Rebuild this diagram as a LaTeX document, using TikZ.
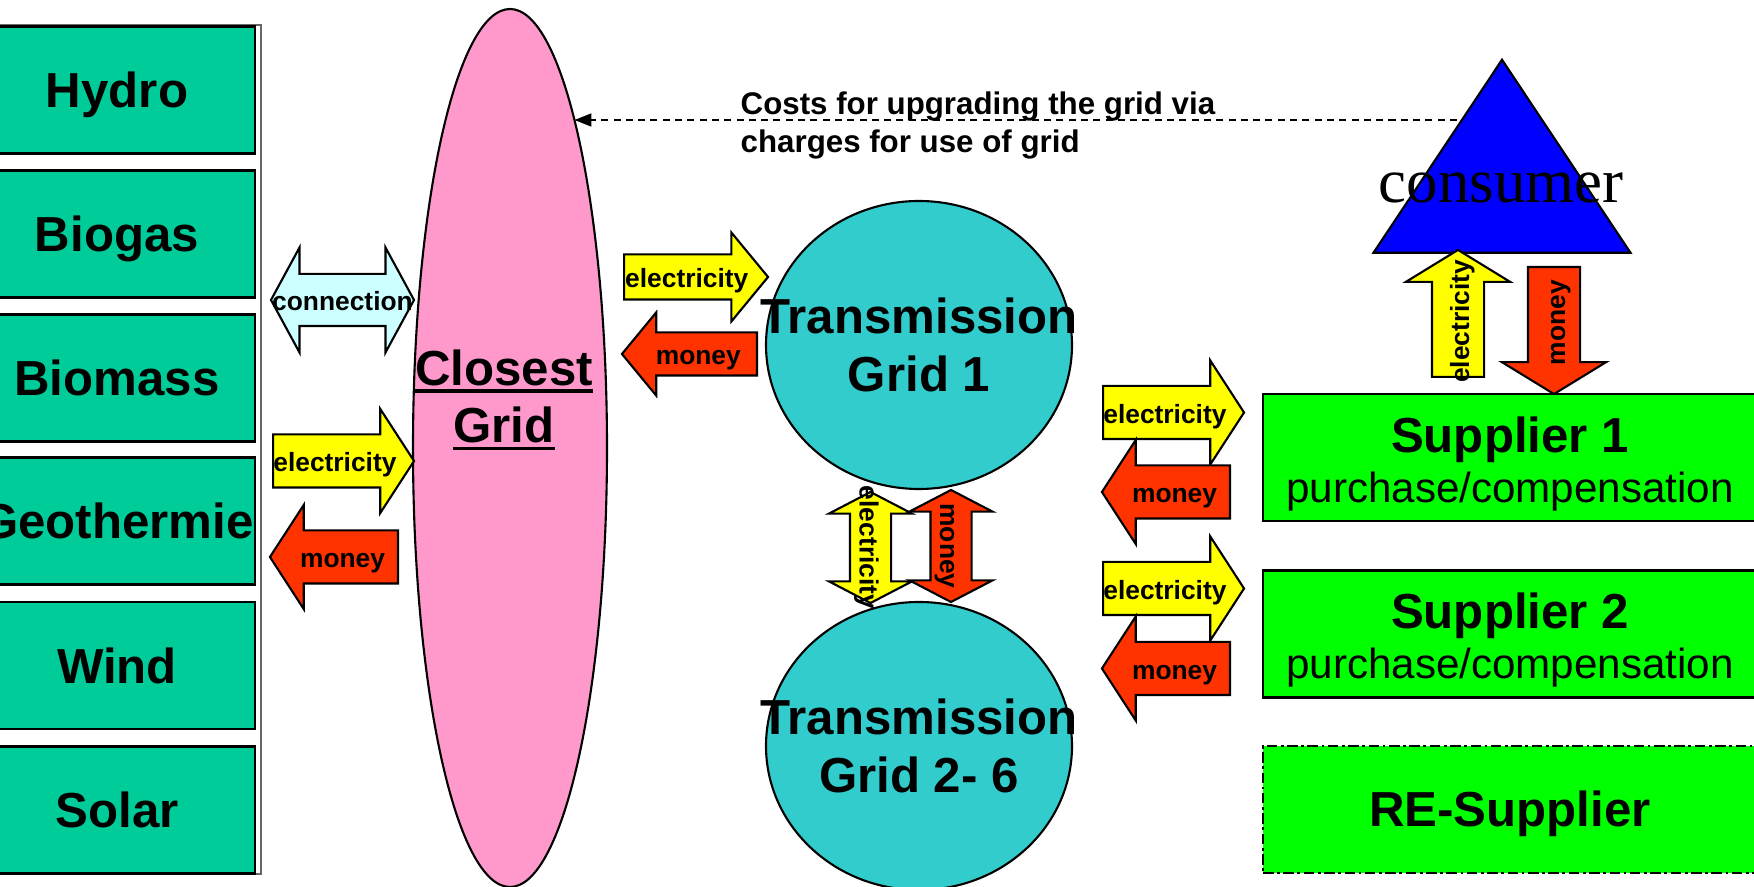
\documentclass[tikz,border=0pt]{standalone}
\usepackage{fontspec}
\setmainfont{Liberation Sans}
\newfontfamily\timesfont{Liberation Serif}
\usetikzlibrary{shapes.geometric,shapes.arrows,arrows.meta}

\definecolor{srcgreen}{RGB}{0,204,153}
\definecolor{gridpink}{RGB}{255,153,204}
\definecolor{gridteal}{RGB}{51,204,204}
\definecolor{supgreen}{RGB}{0,255,0}
\definecolor{elecyellow}{RGB}{255,255,0}
\definecolor{payred}{RGB}{255,51,0}
\definecolor{linkcyan}{RGB}{204,255,255}
\definecolor{userblue}{RGB}{0,0,255}

\newcommand{\gridul}[1]{\leavevmode\vtop{\hbox{#1}\kern1pt\hrule height 1.1pt}}

\tikzset{
  srcbox/.style={rectangle, draw, line width=0.6pt, fill=srcgreen, minimum width=2.76cm, minimum height=1.27cm, text height=0.355cm, text depth=0cm, font=\fontsize{14}{16}\selectfont\bfseries},
  supbox/.style={rectangle, draw, line width=0.6pt, fill=supgreen, minimum width=4.94cm, minimum height=1.27cm},
  suptext/.style={font=\fontsize{12}{14.2}\selectfont, align=center, inner sep=0pt},
  tgrid/.style={ellipse, draw, line width=0.6pt, fill=gridteal, minimum width=3.06cm, minimum height=2.88cm, inner sep=0pt},
  bigtext/.style={font=\fontsize{14}{16.3}\selectfont\bfseries, align=center, inner sep=0pt},
  flow/.style={draw, line width=0.6pt, inner xsep=0pt, text height=0.26cm, text depth=0.04cm, font=\fontsize{7.5}{9}\selectfont\bfseries},
  elec/.style={flow, single arrow, fill=elecyellow},
  pay/.style={flow, single arrow, fill=payred, shape border rotate=180},
  wide/.style={inner ysep=0.105cm, single arrow head extend=0.255cm, single arrow tip angle=114},
  costline/.style={dash pattern=on 2pt off 1.5pt, line width=0.5pt, -{Triangle[length=0.17cm,width=0.13cm]}}
}

\begin{document}
\begin{tikzpicture}
\useasboundingbox (0,0) rectangle (17.54,-8.87);

% energy sources
\draw[line width=0.5pt, black!60] (-0.30,-0.25) rectangle (2.61,-8.74);
\node[srcbox] (hydro) at (1.17,-0.90) {Hydro};
\node[srcbox] (biogas) at (1.17,-2.34) {Biogas};
\node[srcbox] (biomass) at (1.17,-3.78) {Biomass};
\node[srcbox] (geo) at (1.17,-5.21) {\makebox[0pt]{Geothermie}};
\node[srcbox] (wind) at (1.17,-6.655) {Wind};
\node[srcbox] (solar) at (1.17,-8.10) {Solar};

% grids
\node[ellipse, draw, line width=0.6pt, fill=gridpink, minimum width=1.94cm, minimum height=8.78cm, inner sep=0pt] (closest) at (5.10,-4.48) {};
\node[bigtext] (closestlabel) at (5.04,-4.00) {\gridul{Closest}\\\gridul{Grid}};
\node[tgrid, label={[bigtext]center:Transmission\\Grid 1}] (tg1) at (9.19,-3.45) {};
\node[tgrid, label={[bigtext]center:Transmission\\Grid 2- 6}] (tg2) at (9.19,-7.46) {};

% suppliers and consumer
\node[supbox, label={[suptext, yshift=-0.065cm]center:{{\fontsize{14}{14.2}\selectfont\bfseries Supplier 1}\\purchase/compensation}}] (sup1) at (15.10,-4.575) {};
\node[supbox, label={[suptext, yshift=-0.065cm]center:{{\fontsize{14}{14.2}\selectfont\bfseries Supplier 2}\\purchase/compensation}}] (sup2) at (15.10,-6.34) {};
\node[supbox, dash pattern=on 3pt off 1pt on 0.8pt off 1pt, text height=0.35cm, text depth=0cm, font=\fontsize{14}{16}\selectfont\bfseries] (resup) at (15.10,-8.095) {RE-Supplier};
\node[isosceles triangle, isosceles triangle stretches, shape border rotate=90, draw, line width=0.6pt, fill=userblue, minimum width=2.57cm, minimum height=1.93cm, inner sep=0pt, anchor=apex] (consumer) at (15.02,-0.57) {};
\node[font=\timesfont\fontsize{17.9}{21}\selectfont, anchor=base, inner sep=0pt] (consumerlabel) at (15.01,-2.03) {consumer};

% grid charges
\coordinate (costs) at (14.57,-1.20);
\draw[costline] (costs) -- (costs -| closest.79.8);
\node[font=\fontsize{8.9}{10.8}\selectfont\bfseries, align=left, anchor=north west, inner sep=0pt] (costnote) at (7.40,-0.91) {Costs for upgrading the grid via\\charges for use of grid};

% flows
\node[flow, double arrow, fill=linkcyan, inner ysep=0.10cm, double arrow head extend=0.265cm, double arrow tip angle=123, minimum height=1.43cm] (linksrc) at (3.425,-3.00) {\makebox[0pt]{connection}};
\node[elec, wide, minimum height=1.41cm, anchor=tail] (elecsrc) at (2.72,-4.61) {\makebox[0pt]{electricity}};
\node[pay, wide, minimum height=1.28cm, anchor=tail] (paysrc) at (3.99,-5.57) {\makebox[0pt]{money}};
\node[elec, inner ysep=0.065cm, single arrow head extend=0.22cm, single arrow tip angle=101, minimum height=1.44cm, anchor=tail] (elecgrid) at (6.23,-2.77) {\makebox[0pt]{electricity}};
\node[pay, inner ysep=0.055cm, single arrow head extend=0.20cm, single arrow tip angle=101, minimum height=1.35cm, anchor=tail] (paygrid) at (7.58,-3.54) {\makebox[0pt]{money}};
\node[flow, double arrow, fill=elecyellow, rotate=-90, inner ysep=0.045cm, double arrow head extend=0.21cm, double arrow tip angle=125, minimum height=1.11cm] (elecinter) at (8.705,-5.475) {\makebox[0pt]{electricity}};
\node[flow, double arrow, fill=payred, rotate=-90, inner ysep=0.045cm, double arrow head extend=0.21cm, double arrow tip angle=125, minimum height=1.12cm] (payinter) at (9.51,-5.46) {\makebox[0pt]{money}};
\node[elec, wide, minimum height=1.41cm, anchor=tail] (elecsup1) at (11.02,-4.125) {\makebox[0pt]{electricity}};
\node[pay, wide, minimum height=1.28cm, anchor=tail] (paysup1) at (12.31,-4.92) {\makebox[0pt]{money}};
\node[elec, wide, minimum height=1.41cm, anchor=tail] (elecsup2) at (11.02,-5.885) {\makebox[0pt]{electricity}};
\node[pay, wide, minimum height=1.28cm, anchor=tail] (paysup2) at (12.31,-6.685) {\makebox[0pt]{money}};
\node[elec, rotate=90, inner ysep=0.10cm, single arrow head extend=0.26cm, single arrow tip angle=117, minimum height=1.27cm, anchor=tail] (elecuser) at (14.58,-3.78) {\makebox[0pt]{electricity}};
\node[pay, rotate=90, inner ysep=0.10cm, single arrow head extend=0.26cm, single arrow tip angle=117, minimum height=1.27cm, anchor=tail] (payuser) at (15.54,-2.66) {\makebox[0pt]{money}};
\end{tikzpicture}
\end{document}
